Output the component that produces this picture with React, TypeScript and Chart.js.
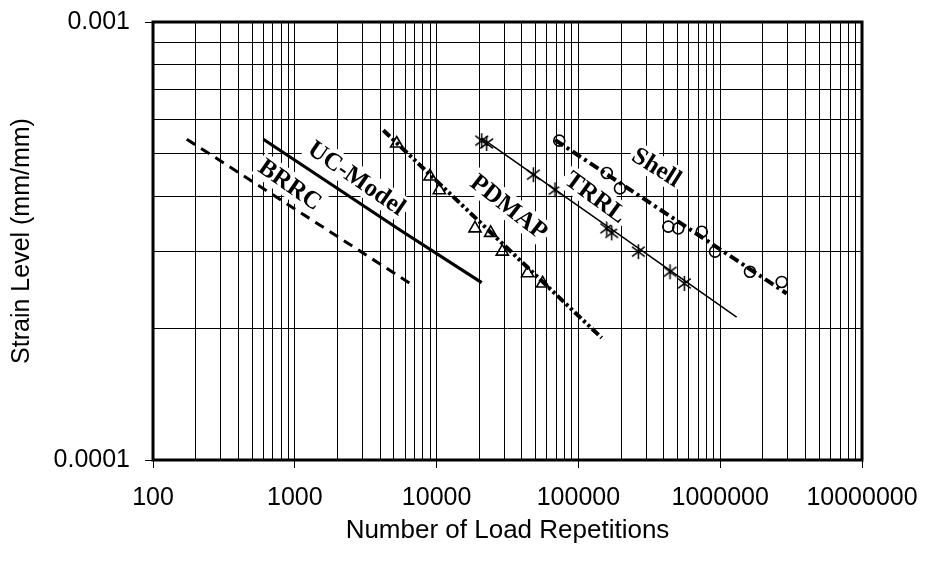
import React, { useEffect, useRef } from 'react';
import { Chart, registerables } from 'chart.js';
Chart.register(...registerables);

// Axis ticks
const xMajorTicks = [100, 1000, 10000, 100000, 1000000, 10000000];
const xTickLabels = ['100', '1000', '10000', '100000', '1000000', '10000000'];
const yMajorTicks = [0.0001, 0.001];
const yTickLabels = ['0.0001', '0.001'];

// BRRC (dashed curve)
const brrcX = [173, 483, 6490];
const brrcY = [0.00054, 0.000436, 0.000253];
// UC-Model (solid curve)
const ucX = [600, 5520, 20800];
const ucY = [0.00054, 0.000335, 0.000254];
// PDMAP fit line and data
const pdmapLineX = [4210, 146000];
const pdmapLineY = [0.000566, 0.00019];
const pdmapPtsX = [5230, 8980, 10450, 18660, 24050, 29050, 43850, 55950];
const pdmapPtsY = [0.000528, 0.000444, 0.000413, 0.000338, 0.00033, 0.000299, 0.000267, 0.000253];
// TRRL fit line and data
const trrlLineX = [20800, 1306000];
const trrlLineY = [0.000543, 0.000212];
const trrlPtsX = [20800, 22550, 48100, 68400, 158500, 171800, 264600, 442600, 558500];
const trrlPtsY = [0.000536, 0.000528, 0.000448, 0.000414, 0.000338, 0.00033, 0.000299, 0.000269, 0.000253];
// Shell fit line and data
const shellLineX = [68400, 2944000];
const shellLineY = [0.000538, 0.00024];
const shellPtsX = [73300, 158500, 196400, 430500, 506000, 741000, 919000, 1622000, 2716000];
const shellPtsY = [0.000536, 0.000452, 0.000417, 0.000341, 0.000338, 0.000332, 0.000299, 0.000269, 0.000255];

// Curve labels (anchored in data coordinates)
const curveLabels = ['BRRC', 'UC-Model', 'PDMAP', 'TRRL', 'Shell'];
const curveLabelX = [925, 2733, 32400, 132400, 356600];
const curveLabelY = [0.000425, 0.00044, 0.000378, 0.000398, 0.000466];
const curveLabelAngle = [35, 34.5, 38, 36, 32];

const toPts = (xs: number[], ys: number[]) => xs.map((x, i) => ({ x, y: ys[i] }));

const decadeGrid = (majors: number[]) => {
  const out: number[] = [];
  majors.forEach((b, i) => {
    out.push(b);
    if (i < majors.length - 1) for (let m = 2; m <= 9; m++) out.push(m * b);
  });
  return out;
};

function makeStar(): HTMLCanvasElement {
  const s = 17;
  const c = document.createElement('canvas');
  c.width = s;
  c.height = s;
  const g = c.getContext('2d')!;
  g.strokeStyle = '#000';
  g.lineWidth = 1.5;
  const m = s / 2;
  const r = 7.5;
  g.beginPath();
  g.moveTo(m, m - r);
  g.lineTo(m, m + r);
  g.moveTo(m - r * 0.85, m - r * 0.65);
  g.lineTo(m + r * 0.85, m + r * 0.65);
  g.moveTo(m + r * 0.85, m - r * 0.65);
  g.lineTo(m - r * 0.85, m + r * 0.65);
  g.stroke();
  return c;
}

const SANS = '"Liberation Sans", Arial, sans-serif';

export default function App() {
  const ref = useRef<HTMLCanvasElement>(null);
  useEffect(() => {
    document.body.style.margin = '0';
    const star = makeStar();
    const xAll = decadeGrid(xMajorTicks);
    const yAll = decadeGrid(yMajorTicks);

    const labelPlugin = {
      id: 'curveLabels',
      afterDatasetsDraw(chart: any) {
        const { ctx, scales } = chart;
        ctx.save();
        ctx.font = 'bold 25px "Liberation Serif", "Times New Roman", serif';
        curveLabels.forEach((t, i) => {
          const px = scales.x.getPixelForValue(curveLabelX[i]);
          const py = scales.y.getPixelForValue(curveLabelY[i]);
          ctx.save();
          ctx.translate(px, py);
          ctx.rotate((curveLabelAngle[i] * Math.PI) / 180);
          const w = ctx.measureText(t).width;
          ctx.fillStyle = '#fff';
          ctx.fillRect(-w / 2 - 3, -13, w + 6, 26);
          ctx.fillStyle = '#000';
          ctx.textAlign = 'center';
          ctx.textBaseline = 'middle';
          ctx.fillText(t, 0, 1);
          ctx.restore();
        });
        ctx.restore();
      },
      afterDraw(chart: any) {
        const { ctx, chartArea: a } = chart;
        ctx.save();
        ctx.strokeStyle = '#000';
        ctx.lineWidth = 3;
        ctx.strokeRect(a.left, a.top, a.right - a.left, a.bottom - a.top);
        ctx.restore();
      },
    };

    const lineDs = (data: any[], width: number, dash: number[]) => ({
      data,
      showLine: true,
      borderColor: '#000',
      backgroundColor: '#000',
      borderWidth: width,
      borderDash: dash,
      pointRadius: 0,
      pointHoverRadius: 0,
      tension: 0,
    });
    const markDs = (data: any[], style: any, radius: number) => ({
      data,
      showLine: false,
      pointStyle: style,
      pointRadius: radius,
      pointBorderColor: '#000',
      pointBackgroundColor: 'rgba(0,0,0,0)',
      pointBorderWidth: 1.6,
    });

    const chart = new Chart(ref.current!, {
      type: 'scatter',
      data: {
        datasets: [
          lineDs(toPts(brrcX, brrcY), 3, [10, 7]),
          lineDs(toPts(ucX, ucY), 3.2, []),
          lineDs(toPts(pdmapLineX, pdmapLineY), 4, [9, 3, 3, 3, 3, 3]),
          markDs(toPts(pdmapPtsX, pdmapPtsY), 'triangle', 7),
          lineDs(toPts(trrlLineX, trrlLineY), 1.5, []),
          markDs(toPts(trrlPtsX, trrlPtsY), star, 8),
          lineDs(toPts(shellLineX, shellLineY), 4, [10, 4, 3, 4]),
          markDs(toPts(shellPtsX, shellPtsY), 'circle', 5.5),
        ] as any,
      },
      options: {
        animation: false,
        responsive: true,
        maintainAspectRatio: false,
        layout: { padding: { top: 22, right: 64, left: 0, bottom: 0 } },
        plugins: { legend: { display: false }, tooltip: { enabled: false } },
        events: [],
        scales: {
          x: {
            type: 'logarithmic',
            position: 'bottom',
            min: 100,
            max: 10000000,
            afterBuildTicks: (s: any) => {
              s.ticks = xAll.map((v) => ({ value: v }));
            },
            afterFit: (s: any) => {
              s.height = 103;
              s.paddingLeft = 0;
              s.paddingRight = 0;
            },
            ticks: {
              autoSkip: false,
              maxRotation: 0,
              minRotation: 0,
              padding: 15,
              color: '#000',
              font: { family: SANS, size: 25 },
              callback: (v: any) => {
                const i = xMajorTicks.indexOf(Number(v));
                return i >= 0 ? xTickLabels[i] : '';
              },
            },
            grid: {
              color: '#000',
              lineWidth: 1,
              tickLength: 8,
              tickColor: (c: any) =>
                c.tick && xMajorTicks.indexOf(c.tick.value) >= 0 ? '#000' : 'rgba(0,0,0,0)',
            },
            border: { display: false },
            title: {
              display: true,
              text: 'Number of Load Repetitions',
              color: '#000',
              font: { family: SANS, size: 26 },
              padding: { top: 0, bottom: 17 },
            },
          },
          y: {
            type: 'logarithmic',
            position: 'left',
            min: 0.0001,
            max: 0.001,
            afterBuildTicks: (s: any) => {
              s.ticks = yAll.map((v) => ({ value: v }));
            },
            afterFit: (s: any) => {
              s.width = 153;
              s.paddingTop = 0;
              s.paddingBottom = 0;
            },
            ticks: {
              autoSkip: false,
              padding: 15,
              color: '#000',
              font: { family: SANS, size: 25 },
              callback: (v: any) => {
                const i = yMajorTicks.indexOf(Number(v));
                return i >= 0 ? yTickLabels[i] : '';
              },
            },
            grid: {
              color: '#000',
              lineWidth: 1,
              tickLength: 8,
              tickColor: (c: any) =>
                c.tick && yMajorTicks.indexOf(c.tick.value) >= 0 ? '#000' : 'rgba(0,0,0,0)',
            },
            border: { display: false },
            title: {
              display: true,
              text: 'Strain Level (mm/mm)',
              color: '#000',
              font: { family: SANS, size: 25 },
              padding: { top: 7, bottom: 0 },
            },
          },
        },
      } as any,
      plugins: [labelPlugin],
    });
    return () => chart.destroy();
  }, []);

  return (
    <div style={{ position: 'relative', width: 926, height: 563 }}>
      <canvas ref={ref} />
    </div>
  );
}
